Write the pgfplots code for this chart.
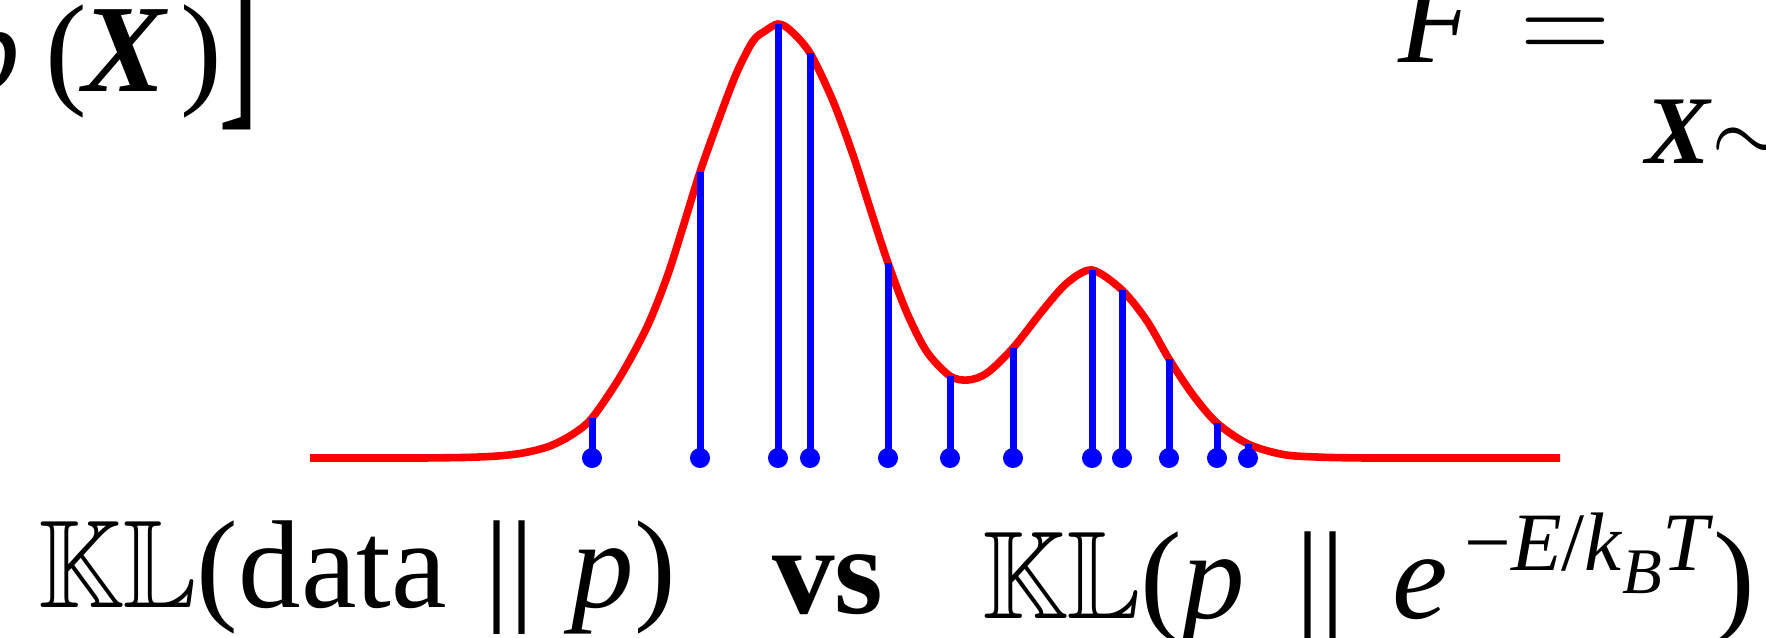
\RequirePackage{fix-cm}
\documentclass[border=0pt]{standalone}
\usepackage{amssymb}
\usepackage{graphicx}
\usepackage{fontspec}
\setmainfont{Liberation Serif}
\DeclareFontFamily{U}{msb}{}
\DeclareFontShape{U}{msb}{m}{n}{<->msbm10}{}
\usepackage{pgfplots}
\pgfplotsset{compat=1.18}

% 1 px of the reference = 0.25pt
\newcommand\fs{\fontsize{31.25pt}{31.25pt}\selectfont}
\newcommand\fsm{\fontsize{24.25pt}{24.25pt}\selectfont}
\newcommand\fsup{\fontsize{20.75pt}{20.75pt}\selectfont}
\newcommand\fsub{\fontsize{16.25pt}{16.25pt}\selectfont}
\newcommand\KL{\scalebox{0.88}[1]{$\mathbb{K}\mathbb{L}$}}
\tikzset{lbl/.style={inner sep=0pt, outer sep=0pt, anchor=base west, text=black}}

\begin{document}
\begin{tikzpicture}
\begin{axis}[
    name=ax, hide axis, scale only axis,
    width=441.5pt, height=159.25pt,
    xmin=0, xmax=1766, ymin=-179, ymax=458,
    clip=false,
]
% density curve
\addplot[red, line width=1.9pt, smooth, tension=0.5] coordinates {
  (310,0) (410,0) (440,0.2) (470,0.7) (500,2.2) (525,5.4) (550,12) (573,24)
  (592,40) (620,81) (647,131) (667,181) (683,231) (700,286) (720,342)
  (737,386) (753,417) (765,427) (778,434) (790,428) (810,405) (833,357)
  (853,303) (870,250) (888,195) (907,145) (927,106) (950,82) (968,78)
  (987,85) (1013,110) (1043,148) (1067,175) (1092,188) (1122,168)
  (1147,137) (1169,99) (1193,63) (1217,35) (1248,14) (1283,3.5)
  (1317,1) (1350,0.2) (1390,0) (1560,0)
};
% samples: stems
\addplot[blue, line width=1.75pt, unbounded coords=jump] coordinates {
  (592,0) (592,40) (592,nan)
  (700,0) (700,286) (700,nan)
  (778,0) (778,434) (778,nan)
  (810,0) (810,405) (810,nan)
  (888,0) (888,195) (888,nan)
  (950,0) (950,82) (950,nan)
  (1013,0) (1013,110) (1013,nan)
  (1092,0) (1092,188) (1092,nan)
  (1122,0) (1122,168) (1122,nan)
  (1169,0) (1169,99) (1169,nan)
  (1217,0) (1217,35) (1217,nan)
  (1248,0) (1248,14)
};
% samples: dots
\addplot[blue, only marks, mark=*, mark size=2.3pt] coordinates {
  (592,0) (700,0) (778,0) (810,0) (888,0) (950,0) (1013,0)
  (1092,0) (1122,0) (1169,0) (1217,0) (1248,0)
};

% bottom line
\node[lbl] at (axis cs:38,-149) {\fs\KL(data\hspace{0.3em}||\hspace{0.3em}\textit{p})};
\node[lbl] at (axis cs:772,-155) {\fs\textbf{vs}};
\node[lbl] at (axis cs:982,-160) {\fs\KL(\textit{p}\hspace{0.4em}||\hspace{0.38em}\textit{e}\hspace{0.13em}\raisebox{12pt}{\fsup −\textit{E}/\textit{k}\raisebox{-5.75pt}{\fsub\textit{B}}\textit{T}})};

% top left fragment
\node[lbl] at (axis cs:-42,367) {\fs\textit{p}};
\node[lbl] at (axis cs:45,367) {\fs(};
\node[lbl] at (axis cs:82,367) {\fs\textbf{\textit{X}}};
\node[lbl] at (axis cs:180,367) {\fs)};
\node[lbl] at (axis cs:218,367) {\fs\scalebox{1}[2.3]{]}};

% top right fragment
\node[lbl] at (axis cs:1398,396) {\fs\textit{F}};
\node[lbl] at (axis cs:1520,396) {\fs$=$};
\node[lbl] at (axis cs:1645,295) {\fsm\textbf{\textit{X}}$\sim$};
\end{axis}
\pgfresetboundingbox
\useasboundingbox (ax.south west) rectangle (ax.north east);
\end{tikzpicture}
\end{document}
